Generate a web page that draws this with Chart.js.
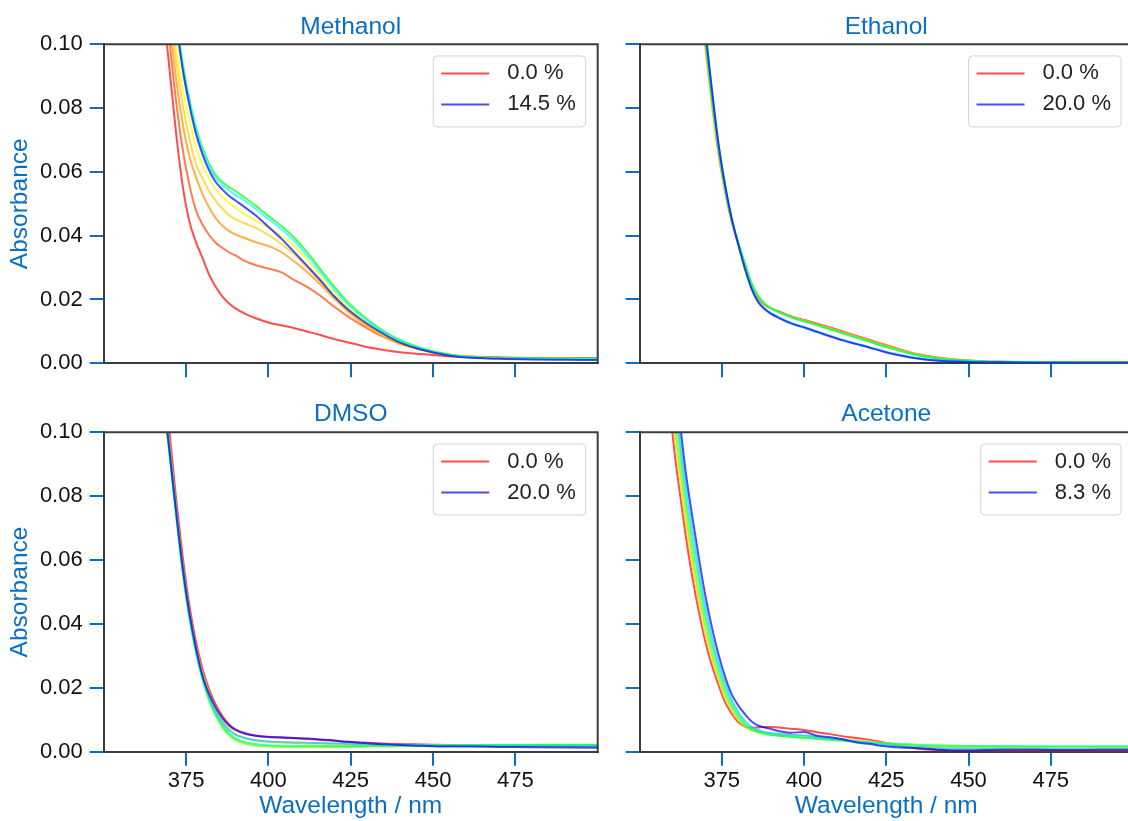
<!DOCTYPE html>
<html>
<head>
<meta charset="utf-8">
<script src="https://cdn.jsdelivr.net/npm/chart.js@4.4.0/dist/chart.umd.min.js"></script>
<style>
  html, body { margin: 0; padding: 0; background: #fff; overflow: hidden; width: 1128px; height: 821px; }
  canvas { position: absolute; }
</style>
</head>
<body>
<canvas id="meoh" width="600" height="400" style="left:0;top:0"></canvas>
<canvas id="etoh" width="540" height="400" style="left:600px;top:0"></canvas>
<canvas id="dmso" width="600" height="436" style="left:0;top:385px"></canvas>
<canvas id="acet" width="540" height="436" style="left:600px;top:385px"></canvas>
<script>
/* eje x comun (nm) */
const wavelengths = [350, 355, 360, 362, 364, 366, 368, 370, 372, 374, 376, 378, 380, 382, 384, 386, 388, 390, 393, 396,
  400, 404, 408, 412, 416, 420, 424, 428, 432, 436, 440, 445, 450, 455, 460, 470, 480, 490, 500];

const xTicks = [375, 400, 425, 450, 475];
const yTicks = [0, 0.02, 0.04, 0.06, 0.08, 0.10];

/* Methanol: % de co-solvente y espectros */
const methanolConc = [0.0, 1.0, 2.0, 2.9, 3.8, 7.3, 10.9, 14.5];
const methanolAbs = [
  [.9, .5, .28, .22, .175, .14, .113, .092, .072, .0555, .0445, .038, .033, .0278, .024, .021, .0188, .0172, .0155, .0142, .0128, .0119, .011, .0099, .0088, .0076, .0066, .0056, .0047, .004, .0035, .003, .0026, .0022, .002, .0018, .0017, .0017, .0016],
  [1.0, .55, .31, .245, .195, .157, .125, .101, .082, .067, .056, .048, .0435, .0402, .0378, .0362, .0348, .0338, .032, .0308, .0297, .0285, .026, .0238, .021, .0177, .0148, .0122, .0098, .0078, .0062, .0047, .0035, .0027, .0022, .0018, .0016, .0015, .0015],
  [1.05, .58, .33, .26, .207, .167, .134, .108, .089, .075, .065, .0585, .053, .0488, .0455, .0432, .0415, .0404, .0392, .038, .0368, .0348, .0318, .0284, .0245, .0203, .0164, .013, .0102, .0079, .0061, .0046, .0034, .0026, .0021, .0017, .0015, .0015, .0014],
  [1.1, .6, .34, .27, .215, .173, .14, .114, .095, .081, .0705, .0625, .058, .054, .051, .0485, .0465, .0452, .0438, .0425, .0402, .0374, .034, .0298, .0253, .0206, .0166, .0132, .0103, .008, .0062, .0046, .0034, .0026, .002, .0016, .0014, .0014, .0013],
  [1.15, .62, .35, .28, .222, .178, .145, .119, .1, .086, .0765, .068, .062, .058, .0545, .0522, .0503, .0488, .0466, .0448, .0425, .0398, .0365, .0322, .0272, .0222, .0178, .0143, .0113, .0088, .0067, .0049, .0036, .0027, .0021, .0016, .0014, .0014, .0013],
  [1.2, .66, .375, .3, .24, .194, .158, .13, .109, .094, .083, .074, .0675, .0625, .059, .0568, .0552, .054, .0518, .0495, .0462, .043, .0392, .0345, .0292, .024, .0193, .0155, .0122, .0095, .0073, .0053, .0038, .0028, .0021, .0017, .0016, .0015, .0015],
  [1.2, .66, .372, .298, .238, .192, .157, .129, .108, .093, .082, .0732, .0668, .062, .0582, .0558, .0542, .0528, .0508, .0485, .0452, .042, .0382, .0335, .0284, .0232, .0187, .015, .0118, .0092, .007, .0051, .0036, .0026, .002, .0016, .0015, .0014, .0014],
  [1.2, .65, .37, .295, .235, .19, .155, .128, .107, .092, .081, .072, .0655, .0605, .0568, .0545, .0525, .051, .0488, .0465, .0428, .039, .0347, .0303, .0258, .021, .017, .0138, .011, .0086, .0065, .0047, .0034, .0024, .0018, .0014, .0012, .0011, .001]
];

/* Ethanol */
const ethanolConc = [0.0, 4.0, 8.0, 12.0, 16.0, 20.0];
const ethanolAbs = [
  [.9, .5, .24, .2, .168, .142, .12, .1, .082, .066, .054, .0445, .0375, .031, .0245, .0205, .0183, .0172, .016, .0148, .0136, .0124, .0112, .0099, .0086, .0073, .006, .0047, .0035, .0026, .0019, .0013, .0009, .0006, .0005, .0004, .0004, .0003, .0003],
  [.9, .5, .24, .199, .167, .141, .119, .099, .081, .0655, .0538, .0444, .0374, .031, .0246, .0206, .0184, .0171, .0158, .0146, .0134, .0122, .011, .0097, .0084, .0071, .0058, .0046, .0034, .0025, .0018, .0012, .0008, .0006, .0005, .0004, .0003, .0003, .0003],
  [.92, .51, .245, .203, .17, .144, .122, .101, .083, .067, .0548, .0452, .038, .0315, .0252, .0212, .0188, .0173, .0158, .0145, .0132, .012, .0107, .0094, .0081, .0068, .0055, .0043, .0032, .0023, .0017, .0011, .0008, .0006, .0005, .0004, .0003, .0003, .0003],
  [.93, .515, .25, .206, .173, .146, .124, .102, .084, .0675, .055, .0452, .0379, .0313, .0252, .0211, .0187, .0172, .0157, .0144, .0131, .0119, .0106, .0093, .008, .0067, .0054, .0042, .0031, .0022, .0016, .0011, .0008, .0006, .0005, .0004, .0003, .0003, .0002],
  [.94, .525, .252, .208, .175, .148, .126, .104, .085, .0685, .0558, .0455, .0374, .03, .0237, .0195, .0172, .0157, .0141, .0127, .0114, .01, .0086, .0073, .0061, .005, .0039, .0029, .002, .0014, .001, .0007, .0005, .0004, .0003, .0003, .0002, .0002, .0002],
  [.95, .53, .255, .21, .177, .15, .128, .105, .086, .069, .056, .0455, .0373, .0298, .0235, .0193, .017, .0155, .0139, .0125, .0112, .0098, .0084, .0071, .006, .0049, .0037, .0027, .0019, .0013, .0009, .0006, .0004, .0003, .0003, .0002, .0002, .0002, .0002]
];

/* DMSO */
const dmsoConc = [0.0, 4.0, 8.0, 12.0, 16.0, 20.0];
const dmsoAbs = [
  [.9, .5, .25, .2, .166, .139, .118, .1, .079, .061, .046, .0345, .026, .0195, .0148, .0112, .0086, .007, .0058, .0051, .0047, .0044, .0042, .004, .0037, .0034, .0031, .0029, .0027, .0025, .0024, .0023, .0022, .0021, .002, .0019, .0019, .0018, .0018],
  [.88, .49, .245, .196, .162, .135, .114, .096, .076, .058, .044, .0328, .0245, .0182, .0135, .0099, .0073, .0056, .0043, .0036, .0031, .0028, .0027, .0026, .0025, .0024, .0023, .0022, .0022, .0022, .0021, .0021, .0021, .0021, .002, .002, .002, .002, .002],
  [.88, .49, .243, .194, .16, .133, .112, .093, .074, .056, .042, .031, .0225, .016, .0112, .0077, .0052, .0036, .0025, .0019, .0016, .0015, .0014, .0014, .0014, .0014, .0015, .0015, .0016, .0016, .0017, .0017, .0018, .0019, .0019, .002, .0021, .0022, .0022],
  [.88, .49, .243, .194, .16, .133, .112, .093, .074, .0565, .0423, .0315, .023, .0165, .0118, .0083, .0058, .0042, .003, .0024, .002, .0019, .0018, .0018, .0018, .0018, .0018, .0018, .0019, .0019, .0019, .002, .002, .002, .0021, .0021, .0021, .0021, .0021],
  [.89, .495, .245, .196, .162, .135, .113, .094, .075, .057, .0428, .032, .0235, .0172, .0126, .0092, .0068, .0053, .0042, .0036, .0032, .003, .0029, .0028, .0027, .0026, .0025, .0024, .0023, .0022, .0021, .002, .0019, .0018, .0018, .0017, .0017, .0016, .0016],
  [.88, .49, .243, .195, .161, .134, .113, .094, .075, .0575, .0435, .0325, .0237, .018, .0138, .0106, .0083, .0068, .0056, .005, .0046, .0045, .0043, .0041, .0038, .0035, .0031, .0028, .0025, .0023, .0021, .0019, .0017, .0016, .0016, .0015, .0014, .0013, .0012]
];

/* Acetone */
const acetoneConc = [0.0, 1.7, 3.3, 5.0, 6.6, 8.3];
const acetoneAbs = [
  [.3, .17, .1, .083, .068, .055, .044, .0345, .027, .021, .0155, .012, .0093, .0079, .0075, .0076, .0077, .0077, .0075, .0072, .0068, .0061, .0055, .0048, .0043, .0037, .003, .0021, .0013, .0008, .0005, .0004, .0003, .0003, .0003, .0002, .0002, .0002, .0002],
  [.32, .18, .106, .088, .072, .059, .047, .037, .029, .0225, .0168, .0128, .0098, .0078, .0068, .0063, .006, .0058, .0056, .0053, .005, .0046, .0043, .0039, .0036, .0032, .0028, .0023, .0019, .0016, .0014, .0012, .0011, .001, .001, .0009, .0009, .0009, .0009],
  [.33, .185, .11, .092, .076, .062, .05, .0395, .031, .024, .0182, .0138, .0105, .0082, .0068, .006, .0055, .0052, .0049, .0046, .0043, .004, .0037, .0034, .0031, .0028, .0025, .0022, .002, .0018, .0017, .0016, .0016, .0015, .0015, .0015, .0015, .0015, .0015],
  [.34, .19, .115, .097, .08, .066, .054, .0425, .0335, .026, .0198, .015, .0114, .0088, .0072, .0063, .0057, .0053, .005, .0047, .0044, .0041, .0038, .0035, .0032, .0029, .0027, .0025, .0023, .0021, .002, .0019, .0018, .0018, .0018, .0017, .0017, .0017, .0017],
  [.35, .195, .12, .101, .084, .07, .057, .0455, .036, .028, .0215, .0163, .0125, .0097, .0079, .0068, .0062, .0058, .0055, .0052, .0051, .0046, .0042, .0037, .0032, .0027, .0022, .0018, .0015, .0013, .0011, .001, .0009, .0009, .0009, .0009, .0008, .0008, .0008],
  [.35, .2, .125, .106, .088, .074, .061, .049, .039, .0305, .0235, .018, .0145, .0118, .0095, .0082, .0076, .0071, .0063, .0059, .0062, .005, .0045, .0038, .0029, .0024, .0018, .0014, .0012, .001, .0007, .0004, .0004, .0005, .0006, .0006, .0005, .0006, .0006]
];

const BLUE = '#0a6fc2';
const FONT = '"Liberation Sans", Arial, sans-serif';
Chart.defaults.font.family = FONT;
Chart.defaults.color = '#111';

/* marco superior y derecho + leyenda dentro del grafico */
const framePlugin = {
  id: 'frame',
  afterDraw(chart) {
    const { ctx, chartArea: a } = chart;
    ctx.save();
    ctx.strokeStyle = '#3c3c3c';
    ctx.lineWidth = 2;
    ctx.beginPath();
    ctx.moveTo(a.left, a.top);
    ctx.lineTo(a.right, a.top);
    ctx.lineTo(a.right, a.bottom);
    ctx.stroke();

    // leyenda: solo primera y ultima serie
    const ds = chart.data.datasets;
    const shown = [ds[0], ds[ds.length - 1]];
    ctx.font = '22px ' + FONT;
    const tw = Math.max(...shown.map(d => ctx.measureText(d.label).width));
    const w = 74 + tw + 10, h = 71, r = 4;
    const x = a.right - 12 - w, y = a.top + 11.7;
    ctx.beginPath();
    ctx.moveTo(x + r, y);
    ctx.arcTo(x + w, y, x + w, y + h, r);
    ctx.arcTo(x + w, y + h, x, y + h, r);
    ctx.arcTo(x, y + h, x, y, r);
    ctx.arcTo(x, y, x + w, y, r);
    ctx.closePath();
    ctx.fillStyle = 'rgba(255,255,255,0.85)';
    ctx.fill();
    ctx.strokeStyle = '#d4d4d4';
    ctx.lineWidth = 1;
    ctx.stroke();
    shown.forEach((d, i) => {
      const ly = y + 17.5 + i * 31;
      ctx.strokeStyle = d.borderColor;
      ctx.lineWidth = 2;
      ctx.beginPath();
      ctx.moveTo(x + 8, ly);
      ctx.lineTo(x + 56, ly);
      ctx.stroke();
      ctx.fillStyle = '#222';
      ctx.textAlign = 'left';
      ctx.textBaseline = 'middle';
      ctx.fillText(d.label, x + 74, ly);
    });
    ctx.restore();
  }
};

function makePanel(id, title, conc, spectra, cfg) {
  const cmax = conc[conc.length - 1];
  const datasets = spectra.map((abs, i) => ({
    label: conc[i].toFixed(1) + ' %',
    data: wavelengths.map((w, k) => ({ x: w, y: abs[k] })),
    borderColor: `hsla(${240 * conc[i] / cmax}, 100%, 50%, 0.7)`,
    borderWidth: 2,
    pointRadius: 0,
    cubicInterpolationMode: 'monotone',
    order: spectra.length - 1 - i
  }));

  new Chart(document.getElementById(id), {
    type: 'line',
    data: { datasets },
    plugins: [framePlugin],
    options: {
      responsive: false,
      animation: false,
      devicePixelRatio: 1,
      layout: { padding: { left: 0, right: cfg.rightPad, top: 0, bottom: 0 } },
      plugins: {
        legend: { display: false },
        tooltip: { enabled: false },
        title: {
          display: true, text: title, color: BLUE, fullSize: false,
          font: { size: 24.5, weight: 'normal' },
          padding: { top: cfg.titleTop, bottom: cfg.titleBottom }
        }
      },
      scales: {
        x: {
          type: 'linear', min: 350, max: 500,
          afterBuildTicks: s => { s.ticks = xTicks.map(v => ({ value: v })); },
          afterFit: s => { s.height = cfg.xH; },
          ticks: { display: cfg.xLabels, font: { size: 22 }, padding: 2, color: '#111' },
          grid: { drawOnChartArea: false, drawTicks: true, tickLength: 14, color: BLUE, lineWidth: 2 },
          border: { display: true, color: '#3c3c3c', width: 2 },
          title: {
            display: cfg.xLabels, text: 'Wavelength / nm', color: BLUE,
            font: { size: 24.5 }, padding: { top: 0, bottom: 0 }
          }
        },
        y: {
          min: 0, max: 0.1,
          afterBuildTicks: s => { s.ticks = yTicks.map(v => ({ value: v })); },
          afterFit: s => { s.width = cfg.yW; },
          ticks: { display: cfg.yLabels, font: { size: 22 }, padding: 7, color: '#111',
            callback: v => v.toFixed(2) },
          grid: { drawOnChartArea: false, drawTicks: true, tickLength: 14, color: BLUE, lineWidth: 2 },
          border: { display: true, color: '#3c3c3c', width: 2 },
          title: {
            display: cfg.yLabels, text: 'Absorbance', color: BLUE,
            font: { size: 24.5 }, padding: { top: 5.3, bottom: 0 }
          }
        }
      }
    }
  });
}

makePanel('meoh', 'Methanol', methanolConc, methanolAbs,
  { xLabels: false, yLabels: true, yW: 103.7, rightPad: 2.3, titleTop: 12.3, titleBottom: 2.5, xH: 36.7 });
makePanel('etoh', 'Ethanol', ethanolConc, ethanolAbs,
  { xLabels: false, yLabels: false, yW: 39.5, rightPad: 7, titleTop: 12.3, titleBottom: 2.5, xH: 36.7 });
makePanel('dmso', 'DMSO', dmsoConc, dmsoAbs,
  { xLabels: true, yLabels: true, yW: 103.7, rightPad: 2.3, titleTop: 14.3, titleBottom: 3.6, xH: 69.3 });
makePanel('acet', 'Acetone', acetoneConc, acetoneAbs,
  { xLabels: true, yLabels: false, yW: 39.5, rightPad: 7, titleTop: 14.3, titleBottom: 3.6, xH: 69.3 });
</script>
</body>
</html>
